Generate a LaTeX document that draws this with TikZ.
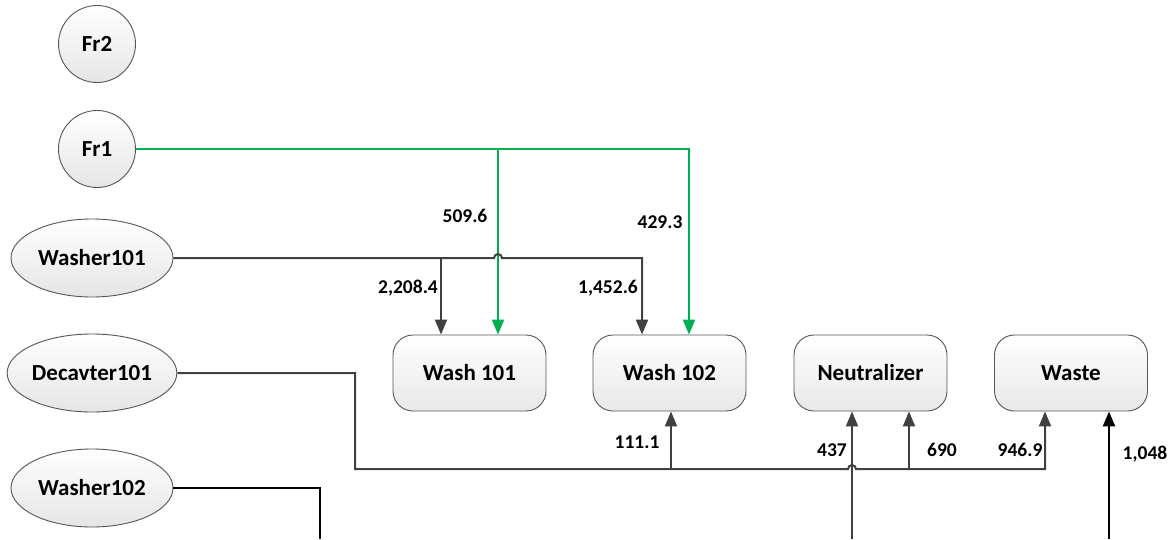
\documentclass[tikz,border=0pt]{standalone}
\usepackage{fontspec}
\setmainfont{Carlito}
\usetikzlibrary{arrows.meta,shapes.geometric}
\definecolor{ln}{HTML}{404040}
\definecolor{gr}{HTML}{00B050}
\definecolor{edgec}{HTML}{555555}
\begin{document}
\begin{tikzpicture}[x=1pt,y=-1pt,
  proc/.style={draw=edgec, line width=0.9pt, rounded corners=20pt, minimum width=153pt, minimum height=76pt, inner sep=0pt, top color=white, bottom color=black!9, font=\fontsize{23}{26}\selectfont\bfseries},
  src/.style={ellipse, draw=edgec, line width=0.9pt, minimum width=162pt, minimum height=78pt, inner sep=0pt, top color=white, bottom color=black!10, font=\fontsize{23}{26}\selectfont\bfseries},
  circ/.style={circle, draw=edgec, line width=0.9pt, minimum size=77pt, inner sep=0pt, top color=white, bottom color=black!10, font=\fontsize{23}{26}\selectfont\bfseries},
  lbl/.style={inner sep=0pt, font=\fontsize{19.5}{22}\selectfont\bfseries},
  grayflow/.style={draw=ln, line width=2pt, -{Triangle[length=15pt,width=12pt]}},
  greenflow/.style={draw=gr, line width=2pt, -{Triangle[length=15pt,width=12pt]}},
  blackflow/.style={draw=black, line width=2.5pt, -{Triangle[length=15pt,width=12pt]}},
  grayline/.style={draw=ln, line width=2pt},
  blackline/.style={draw=black, line width=2.5pt}
]
\useasboundingbox[fill=white] (0,0) rectangle (1176,539);

% sources
\node[circ] (fr2) at (97,44) {Fr2};
\node[circ] (fr1) at (97,149) {Fr1};
\node[src] (w1) at (92,258) {Washer101};
\node[src] (d1) at (92,373) {Decavter101};
\node[src] (w2) at (92,488) {Washer102};

% units
\node[proc] (wash1) at (469.5,373) {Wash 101};
\node[proc] (wash2) at (669.5,373) {Wash 102};
\node[proc] (neut) at (870.5,373) {Neutralizer};
\node[proc] (waste) at (1071,373) {Waste};

% helper coordinates
\coordinate (gsplit) at (498,149);
\coordinate (gcorner) at (689,149);
\coordinate (wsplit) at (441,258);
\coordinate (whopL) at (494,258);
\coordinate (wcorner) at (642,258);
\coordinate (dbend1) at (355,373);
\coordinate (dbend2) at (355,469);
\coordinate (dhopL) at (848,469);
\coordinate (dsplit1) at (671,469);
\coordinate (dsplit2) at (909,469);
\coordinate (dcorner) at (1045,469);
\coordinate (nin) at (852,539);
\coordinate (wastein) at (1109,539);
\coordinate (w2corner) at (320,488);
\coordinate (w2end) at (320,539);

% Fr1 (green)
\draw[greenflow] (fr1.east) -- (gcorner) -- (wash2.north -| gcorner);
\draw[greenflow] (gsplit) -- (wash1.north -| gsplit);

% Washer101
\draw[grayflow] (w1.east) -- (whopL) arc[start angle=180,end angle=0,radius=4pt] -- (wcorner) -- (wash2.north -| wcorner);
\draw[grayflow] (wsplit) -- (wash1.north -| wsplit);

% Decavter101
\draw[grayflow] (d1.east) -- (dbend1) -- (dbend2) -- (dhopL) arc[start angle=180,end angle=0,radius=4pt] -- (dcorner) -- (waste.south -| dcorner);
\draw[grayflow] (dsplit1) -- (wash2.south -| dsplit1);
\draw[grayflow] (dsplit2) -- (neut.south -| dsplit2);

% from below
\draw[grayflow] (nin) -- (neut.south -| nin);
\draw[blackflow] (wastein) -- (waste.south -| wastein);

% Washer102
\draw[blackline] (w2.east) -- (w2corner) -- (w2end);

% labels
\node[lbl] (l1) at (465,216) {509.6};
\node[lbl] (l2) at (660,222) {429.3};
\node[lbl] (l3) at (408,288) {2,208.4};
\node[lbl] (l4) at (608,288) {1,452.6};
\node[lbl] (l5) at (637,442) {111.1};
\node[lbl] (l6) at (832,450) {437};
\node[lbl] (l7) at (942,450) {690};
\node[lbl] (l8) at (1020,450) {946.9};
\node[lbl] (l9) at (1145,454) {1,048};
\end{tikzpicture}
\end{document}
